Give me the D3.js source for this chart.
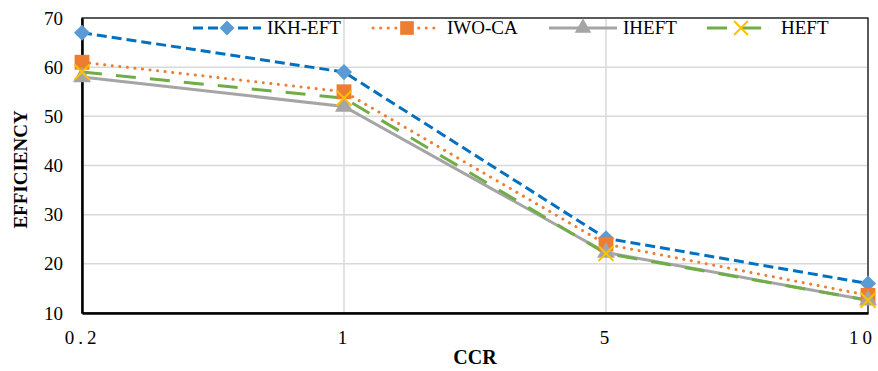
<!DOCTYPE html>
<html lang="en">
<head>
<meta charset="UTF-8">
<title>Efficiency vs CCR</title>
<style>
    body { margin: 0; background: #fff; }
    .grid line { stroke: #d9d9d9; stroke-width: 1.5px; }
</style>
</head>
<body>
<div id="chart"></div>
<script src="https://d3js.org/d3.v7.min.js"></script>
<script>
    const categories = ["0.2", "1", "5", "10"];
    const yTicks = [10, 20, 30, 40, 50, 60, 70];
    const seriesNames = ["IKH-EFT", "IWO-CA", "IHEFT", "HEFT"];
    const ikhEft = [67, 59, 25.2, 16];
    const iwoCa = [61, 55, 24, 13.6];
    const iheft = [58, 52, 22.3, 12.6];
    const heft = [59, 53.7, 22.1, 12.6];

    const FONT = "Liberation Serif";

    const styles = [
        { color: "#0070c0", marker: "#5b9bd5", dash: "10,5", cap: "butt", symbol: "diamond", size: 130 },
        { color: "#ed7d31", marker: "#ed7d31", dash: "0.1,7.5", cap: "round", symbol: "square", size: 220 },
        { color: "#a5a5a5", marker: "#a5a5a5", dash: null, cap: "butt", symbol: "triangle", size: 140 },
        { color: "#70ad47", marker: "#ffc000", dash: "20,7,0.1,7", cap: "butt", symbol: "x", size: 150 }
    ];
    const allSeries = [ikhEft, iwoCa, iheft, heft];

    const W = 878, H = 371;
    const m = { top: 18, right: 10, bottom: 58, left: 82 };
    const svg = d3.select("#chart").append("svg").attr("width", W).attr("height", H)
        .style("font-family", FONT);

    const x = d3.scalePoint().domain(categories).range([m.left, W - m.right]).padding(0);
    const y = d3.scaleLinear().domain([10, 70]).range([H - m.bottom, m.top]);

    // grid
    const grid = svg.append("g").attr("class", "grid");
    grid.selectAll(".h").data(yTicks).enter().append("line")
        .attr("x1", m.left).attr("x2", W - m.right)
        .attr("y1", d => y(d)).attr("y2", d => y(d));
    grid.selectAll(".v").data(categories).enter().append("line")
        .attr("x1", d => x(d)).attr("x2", d => x(d))
        .attr("y1", m.top).attr("y2", H - m.bottom);

    // frame
    svg.append("rect").attr("x", m.left).attr("y", m.top)
        .attr("width", W - m.right - m.left).attr("height", H - m.bottom - m.top)
        .attr("fill", "none").attr("stroke", "#000").attr("stroke-width", 1.2);

    // axes
    const yAxis = svg.append("g").attr("transform", `translate(${m.left},0)`)
        .call(d3.axisLeft(y).tickValues(yTicks).tickSize(0).tickPadding(19));
    yAxis.select(".domain").attr("stroke", "#000").attr("stroke-width", 2.5);
    yAxis.selectAll("text").style("font-family", FONT).style("font-size", "19px").attr("fill", "#000");

    const xAxis = svg.append("g").attr("transform", `translate(0,${H - m.bottom})`)
        .call(d3.axisBottom(x).tickSize(0).tickPadding(18));
    xAxis.select(".domain").attr("stroke", "#000").attr("stroke-width", 2.5);
    xAxis.selectAll("text").style("font-family", FONT).style("font-size", "19px")
        .style("letter-spacing", "4px").attr("fill", "#000")
        .attr("dx", (d, i) => i === categories.length - 1 ? -6 : 0);

    svg.append("text").attr("transform", `translate(27,${(m.top + H - m.bottom) / 2 + 4}) rotate(-90)`)
        .attr("text-anchor", "middle").style("font-family", FONT)
        .style("font-size", "19px").style("font-weight", "bold")
        .text("EFFICIENCY");
    svg.append("text").attr("x", 475).attr("y", 364)
        .attr("text-anchor", "middle").style("font-family", FONT)
        .style("font-size", "20px").style("font-weight", "bold")
        .text("CCR");

    // lines
    const line = d3.line().x((d, i) => x(categories[i])).y(d => y(d));
    allSeries.forEach((s, k) => {
        const st = styles[k];
        svg.append("path").datum(s).attr("d", line)
            .attr("fill", "none").attr("stroke", st.color).attr("stroke-width", 3)
            .attr("stroke-dasharray", st.dash).attr("stroke-linecap", st.cap);
    });
    function marker(g, k, px, py, scale) {
        const st = styles[k];
        const sz = st.size * (scale || 1);
        const types = { diamond: d3.symbolSquare, square: d3.symbolSquare, triangle: d3.symbolTriangle, x: d3.symbolX };
        const rot = st.symbol === "diamond" ? " rotate(45)" : "";
        const p = g.append("path").attr("d", d3.symbol().type(types[st.symbol]).size(sz)())
            .attr("transform", `translate(${px},${py})${rot}`);
        if (st.symbol === "x") {
            p.attr("fill", "none").attr("stroke", st.marker).attr("stroke-width", 2);
        } else {
            p.attr("fill", st.marker);
        }
    }
    allSeries.forEach((s, k) => {
        s.forEach((v, i) => marker(svg, k, x(categories[i]), y(v)));
    });

    // legend
    const legendX = [193, 373, 549, 707];
    const ly = 28;
    seriesNames.forEach((name, k) => {
        const st = styles[k];
        const lx = legendX[k];
        svg.append("line").attr("x1", lx).attr("x2", lx + 68).attr("y1", ly).attr("y2", ly)
            .attr("stroke", st.color).attr("stroke-width", 3)
            .attr("stroke-dasharray", st.dash).attr("stroke-linecap", st.cap);
        marker(svg, k, lx + 34, ly, 0.85);
        svg.append("text").attr("x", lx + 74).attr("y", ly + 6)
            .style("font-family", FONT).style("font-size", "19px").text(name);
    });
</script>
</body>
</html>
